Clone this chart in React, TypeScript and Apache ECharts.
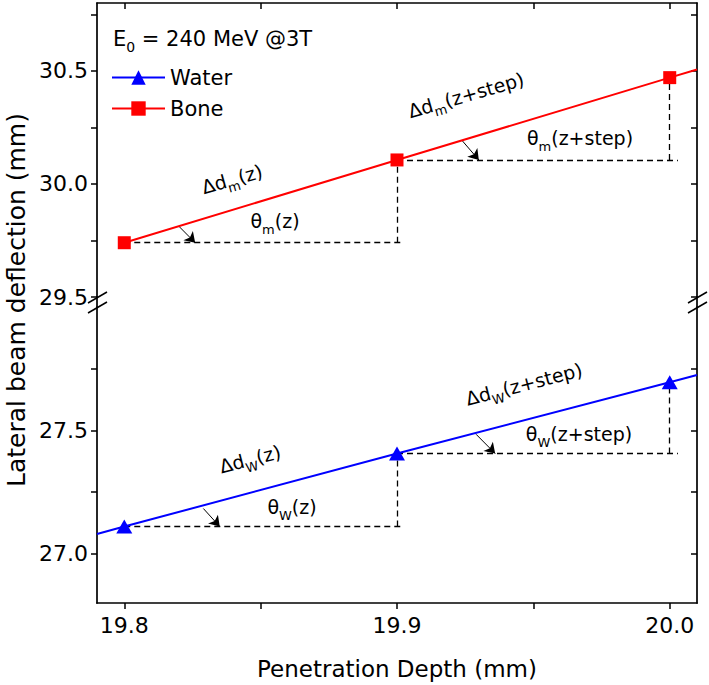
import React, { useEffect, useRef } from 'react';
import * as echarts from 'echarts';

// ---- data ----
const waterDepth = [19.8, 19.9, 20.0];
const waterDeflection = [27.11, 27.406, 27.695];
const boneDepth = [19.8, 19.9, 20.0];
const boneDeflection = [29.74, 30.106, 30.47];
// where the drawn straight lines meet the frame
const waterFitStart = [19.79, 27.08];
const waterFitEnd = [20.01, 27.724];
const boneFitEnd = [20.01, 30.506];
// where the horizontal dashed guides end
const guideEnds = [19.902, 20.003];
// angle arrows: [startX, startY, endX, endY]
const waterArrows = [
  [19.829, 27.183, 19.835, 27.11],
  [19.929, 27.484, 19.936, 27.406],
];
const boneArrows = [
  [19.82, 29.813, 19.826, 29.74],
  [19.924, 30.19, 19.93, 30.106],
];

const xTicks = [19.8, 19.85, 19.9, 19.95, 20.0];
const xLabels = [19.8, 19.9, 20.0];
const upperTicks = [29.5, 29.75, 30.0, 30.25, 30.5, 30.75];
const upperLabels = [29.5, 30.0, 30.5];
const lowerTicks = [27.0, 27.25, 27.5, 27.75];
const lowerLabels = [27.0, 27.5];

const FONT = '"DejaVu Sans", sans-serif';
const BLUE = '#0000ff';
const RED = '#ff0000';

function guideLines(depth: number[], defl: number[]) {
  const out: any[] = [];
  for (let i = 0; i < depth.length - 1; i++) {
    out.push([{ coord: [depth[i], defl[i]] }, { coord: [guideEnds[i], defl[i]] }]);
    out.push([{ coord: [depth[i + 1], defl[i]] }, { coord: [depth[i + 1], defl[i + 1]] }]);
  }
  return out.map((p) => [
    { ...p[0], symbol: 'none', lineStyle: { type: [6, 4], color: '#000', width: 1.3 } },
    { ...p[1], symbol: 'none' },
  ]);
}
function arrowLines(arr: number[][]) {
  return arr.map((a) => [
    { coord: [a[0], a[1]], symbol: 'none', lineStyle: { type: 'solid', color: '#000', width: 1 } },
    { coord: [a[2], a[3]], symbol: 'arrow', symbolSize: 10 },
  ]);
}

const rich = {
  n: { fontSize: 19, fontFamily: FONT, fill: '#000' },
  s: { fontSize: 13, fontFamily: FONT, fill: '#000', padding: [16, 0, 0, 0] },
};
function annot(text: string, x: number, y: number, deg: number) {
  return {
    type: 'text',
    x,
    y,
    rotation: (deg * Math.PI) / 180,
    style: { text, rich, align: 'center', verticalAlign: 'middle', fill: '#000' },
  };
}
function gline(x1: number, y1: number, x2: number, y2: number, w = 1.5) {
  return { type: 'line', shape: { x1, y1, x2, y2 }, style: { stroke: '#000', lineWidth: w } };
}

export default function App() {
  const ref = useRef<HTMLDivElement>(null);
  useEffect(() => {
    const chart = echarts.init(ref.current!, null, { renderer: 'svg' });
    const axisLine = { show: true, onZero: false, lineStyle: { color: '#000', width: 1.7 } };
    const labelStyle = { color: '#000', fontSize: 22, fontFamily: FONT };
    const fmt = (v: number) => v.toFixed(1);

    const waterData = [waterFitStart, ...waterDepth.map((d, i) => [d, waterDeflection[i]]), waterFitEnd];
    const boneData = [...boneDepth.map((d, i) => [d, boneDeflection[i]]), boneFitEnd];

    chart.setOption({
      animation: false,
      grid: [
        { left: 97, top: 3, width: 600, height: 294 },
        { left: 97, top: 307, width: 600, height: 296 },
      ],
      xAxis: [
        {
          type: 'value', gridIndex: 0, position: 'top', min: 19.79, max: 20.01,
          axisLine, splitLine: { show: false },
          axisTick: { show: true, inside: true, length: 6, customValues: xTicks, lineStyle: { color: '#000', width: 1.5 } },
          axisLabel: { show: false },
        },
        {
          type: 'value', gridIndex: 1, position: 'bottom', min: 19.79, max: 20.01,
          axisLine, splitLine: { show: false },
          axisTick: { show: true, inside: false, length: 6, customValues: xTicks, lineStyle: { color: '#000', width: 1.5 } },
          axisLabel: { ...labelStyle, customValues: xLabels, formatter: fmt, margin: 11 },
          name: 'Penetration Depth (mm)', nameLocation: 'middle', nameGap: 54,
          nameTextStyle: { color: '#000', fontSize: 23, fontFamily: FONT },
        },
      ],
      yAxis: [
        {
          type: 'value', gridIndex: 0, position: 'left', min: 29.5, max: 30.8,
          axisLine, splitLine: { show: false },
          axisTick: { show: true, inside: false, length: 6, customValues: upperTicks, lineStyle: { color: '#000', width: 1.5 } },
          axisLabel: { ...labelStyle, customValues: upperLabels, formatter: fmt, margin: 9 },
        },
        {
          type: 'value', gridIndex: 0, position: 'right', min: 29.5, max: 30.8,
          axisLine, splitLine: { show: false },
          axisTick: { show: true, inside: true, length: 6, customValues: upperTicks, lineStyle: { color: '#000', width: 1.5 } },
          axisLabel: { show: false },
        },
        {
          type: 'value', gridIndex: 1, position: 'left', min: 26.8, max: 28.0,
          axisLine, splitLine: { show: false },
          axisTick: { show: true, inside: false, length: 6, customValues: lowerTicks, lineStyle: { color: '#000', width: 1.5 } },
          axisLabel: { ...labelStyle, customValues: lowerLabels, formatter: fmt, margin: 9 },
        },
        {
          type: 'value', gridIndex: 1, position: 'right', min: 26.8, max: 28.0,
          axisLine, splitLine: { show: false },
          axisTick: { show: true, inside: true, length: 6, customValues: lowerTicks, lineStyle: { color: '#000', width: 1.5 } },
          axisLabel: { show: false },
        },
      ],
      legend: {
        data: ['Water', 'Bone'],
        orient: 'vertical', left: 111, top: 67, padding: 0,
        itemWidth: 53, itemHeight: 18, itemGap: 10, selectedMode: false,
        textStyle: { color: '#000', fontSize: 21, fontFamily: FONT, lineHeight: 19 },
      },
      series: [
        {
          name: 'Water', type: 'line', xAxisIndex: 1, yAxisIndex: 2, data: waterData,
          symbol: 'triangle',
          symbolSize: (_v: any, p: any) => (p.dataIndex === 0 || p.dataIndex === waterData.length - 1 ? 0 : [16, 14]),
          lineStyle: { color: BLUE, width: 2 }, itemStyle: { color: BLUE }, z: 5,
          markLine: {
            silent: true, label: { show: false }, animation: false,
            data: [...guideLines(waterDepth, waterDeflection), ...arrowLines(waterArrows)],
          },
        },
        {
          name: 'Bone', type: 'line', xAxisIndex: 0, yAxisIndex: 0, data: boneData,
          symbol: 'rect',
          symbolSize: (_v: any, p: any) => (p.dataIndex === boneData.length - 1 ? 0 : 13),
          lineStyle: { color: RED, width: 2 }, itemStyle: { color: RED }, z: 5,
          markLine: {
            silent: true, label: { show: false }, animation: false,
            data: [...guideLines(boneDepth, boneDeflection), ...arrowLines(boneArrows)],
          },
        },
      ],
      graphic: [
        // frame pieces across the break
        gline(97, 296, 97, 308, 1.7),
        gline(697, 296, 697, 308, 1.7),
        // break marks
        gline(88, 303, 107, 292), gline(88, 313, 107, 302),
        gline(688, 303, 707, 292), gline(688, 313, 707, 302),
        {
          type: 'text', x: 16, y: 300, rotation: Math.PI / 2,
          style: { text: 'Lateral beam deflection (mm)', fontSize: 25, fontFamily: FONT, fill: '#000', align: 'center', verticalAlign: 'middle' },
        },
        {
          type: 'text', x: 113, y: 39,
          style: {
            text: '{n|E}{s|0}{n| = 240 MeV @3T}', align: 'left', verticalAlign: 'middle',
            rich: {
              n: { fontSize: 21, fontFamily: FONT, fill: '#000' },
              s: { fontSize: 14, fontFamily: FONT, fill: '#000', padding: [16, 0, 0, 0] },
            },
          },
        },
        annot('{n|Δd}{s|m}{n|(z)}', 232, 179, 16),
        annot('{n|θ}{s|m}{n|(z)}', 275, 221, 0),
        annot('{n|Δd}{s|m}{n|(z+step)}', 466, 95, 16),
        annot('{n|θ}{s|m}{n|(z+step)}', 580, 138, 0),
        annot('{n|Δd}{s|W}{n|(z)}', 250, 459, 14.5),
        annot('{n|θ}{s|W}{n|(z)}', 292, 507, 0),
        annot('{n|Δd}{s|W}{n|(z+step)}', 524, 384, 14.5),
        annot('{n|θ}{s|W}{n|(z+step)}', 579, 434, 0),
      ],
    });
    return () => chart.dispose();
  }, []);
  return (
    <div
      ref={ref}
      style={{ position: 'fixed', left: 0, top: 0, width: 709, height: 685, background: '#fff' }}
    />
  );
}
